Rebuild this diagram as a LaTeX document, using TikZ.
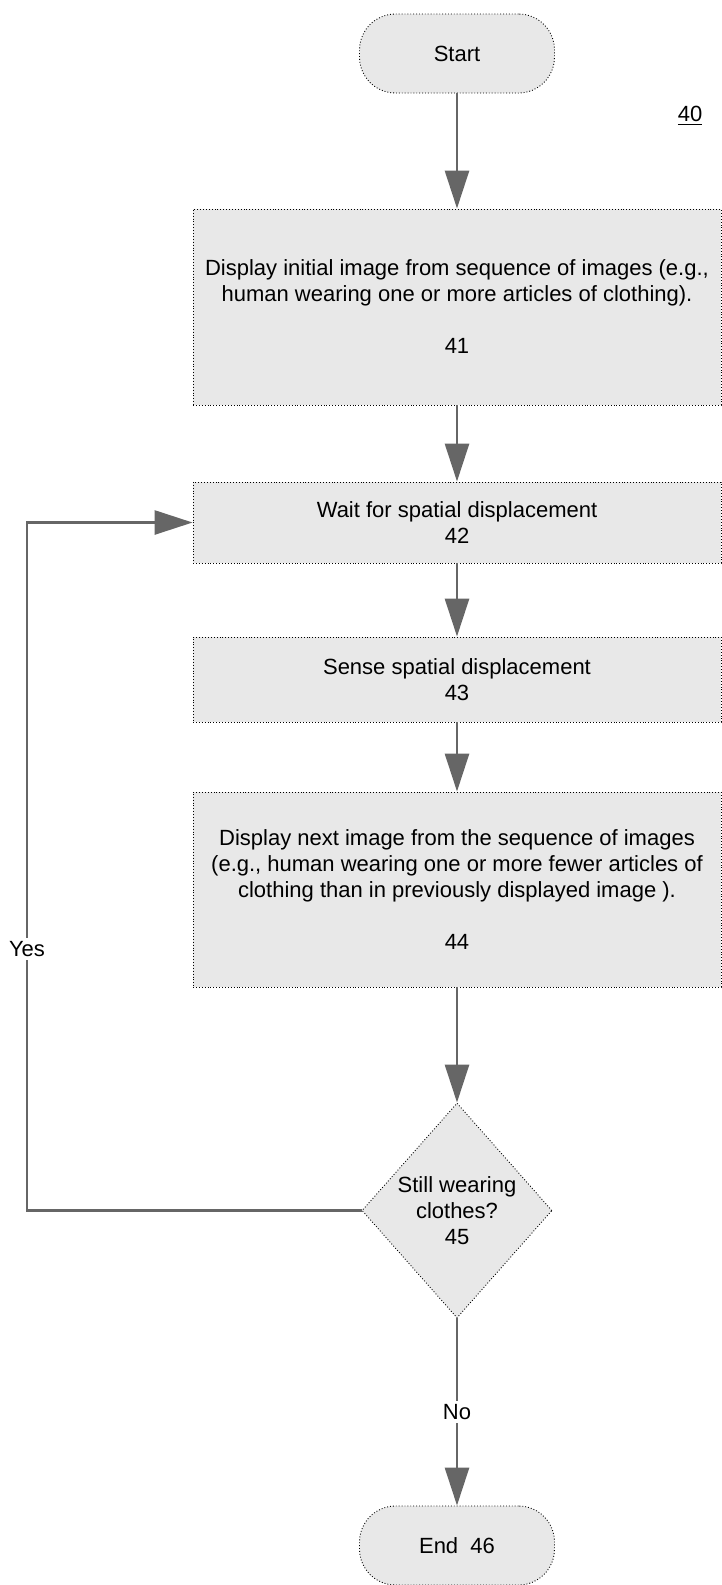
\documentclass[tikz,border=0pt]{standalone}
\usepackage{fontspec}
\setmainfont{Liberation Sans}
\usetikzlibrary{arrows.meta,positioning,shapes.geometric}
\tikzset{
  flowbox/.style={draw, densely dotted, line width=0.45pt, fill=gray!18, minimum width=264pt,
    align=center, inner sep=2pt, font=\fontsize{11}{13}\selectfont},
  termbox/.style={flowbox, minimum width=97.5pt, minimum height=39.5pt, rounded corners=18pt},
  decbox/.style={flowbox, diamond, inner sep=0pt, minimum width=95pt, minimum height=107.5pt},
  flowarr/.style={-{Triangle[length=19pt,width=12pt]}, line width=1.4pt, black!60},
  lbl/.style={fill=white, text=black, inner sep=1.5pt, font=\fontsize{11}{13}\selectfont},
}
\begin{document}
\begin{tikzpicture}[x=0.5pt, y=-0.5pt]
    \useasboundingbox (0,0) rectangle (722,1585);
    % terminals and steps
    \node[termbox] (start) at (457,53.5) {Start};
    \node[lbl, fill=none] (ref40) at (690,116) {\underline{40}};
    \node[flowbox, minimum height=98pt] (b41) at (457,307)
      {Display initial image from sequence of images (e.g.,\\
       human wearing one or more articles of clothing).\\[13pt] 41};
    \node[flowbox, minimum height=40.5pt] (b42) at (457,522.5)
      {Wait for spatial displacement\\ 42};
    \node[flowbox, minimum height=42.5pt] (b43) at (457,679.5)
      {Sense spatial displacement\\ 43};
    \node[flowbox, minimum height=97.5pt] (b44) at (457,889.5)
      {Display next image from the sequence of images\\
       (e.g., human wearing one or more fewer articles of\\
       clothing than in previously displayed image ).\\[13pt] 44};
    \node[decbox] (d45) at (457,1210.5) {Still wearing\\ clothes?\\ 45};
    \node[termbox] (fin46) at (457,1545.5) {End~~46};
    % connectors
    \draw[flowarr] (start) -- (b41);
    \draw[flowarr] (b41) -- (b42);
    \draw[flowarr] (b42) -- (b43);
    \draw[flowarr] (b43) -- (b44);
    \draw[flowarr] (b44) -- (d45);
    \draw[flowarr] (d45) -- (fin46) node[lbl, midway] {No};
    % loop back
    \coordinate (yesc) at (27,1210.5);
    \draw[flowarr] (d45.west) -- (yesc) |- (b42.west) node[lbl, pos=0.19] {Yes};
\end{tikzpicture}
\end{document}
